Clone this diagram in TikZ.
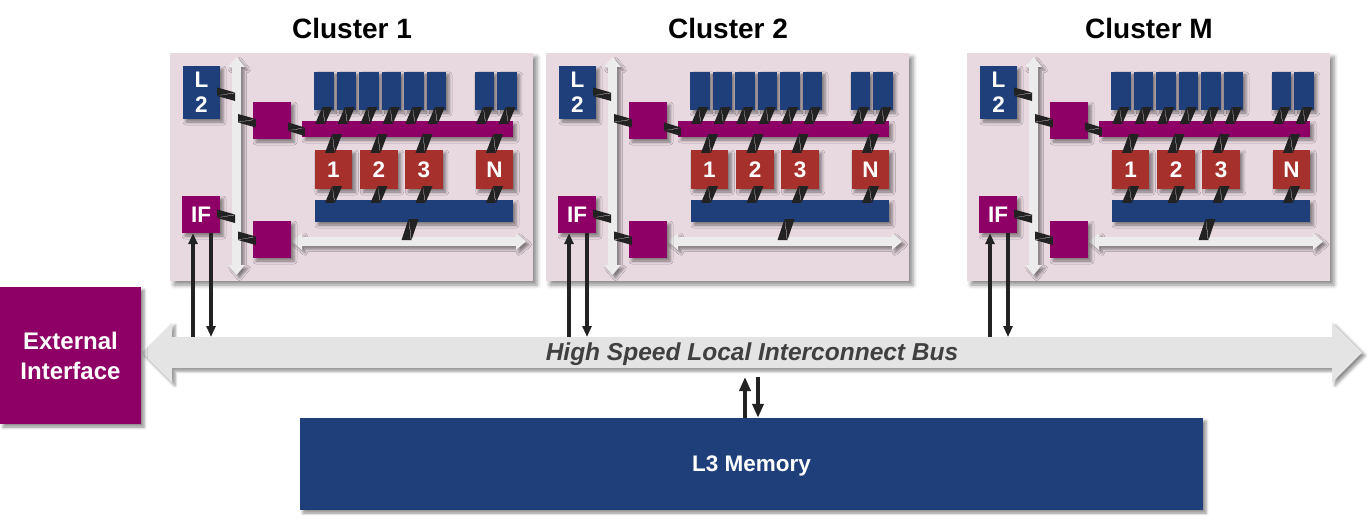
\documentclass[tikz,border=0pt]{standalone}
\usepackage{fontspec}
\setmainfont{Liberation Sans}
\usetikzlibrary{arrows.meta,calc,shadows.blur}

\definecolor{cblue}{HTML}{1F3F7A}
\definecolor{cpurple}{HTML}{8E0065}
\definecolor{cred}{HTML}{A6302C}
\definecolor{cbg}{HTML}{E8D9E0}
\definecolor{cgrey}{HTML}{E4E4E4}
\definecolor{clink}{HTML}{222222}
\definecolor{cbustext}{HTML}{404040}

\tikzset{
  shad/.style={blur shadow={shadow xshift=3pt, shadow yshift=-3pt, shadow blur radius=3pt, shadow opacity=45}},
  box/.style={rectangle, inner sep=0pt, text=white, align=center, shad, text depth=0pt,
    font=\fontsize{22.5}{25.5}\selectfont\bfseries},
  clbox/.style={rectangle, inner sep=0pt, fill=cbg, minimum width=363pt, minimum height=228pt,
    blur shadow={shadow xshift=4pt, shadow yshift=-4pt, shadow blur radius=4pt, shadow opacity=45}},
  sw/.style={box, fill=cpurple, minimum width=38pt, minimum height=37pt},
  bank/.style={box, fill=cblue, minimum width=19.5pt, minimum height=38pt},
  core/.style={box, fill=cred, minimum width=37.5pt, minimum height=39pt},
  ibus/.style={fill=cgrey!70!white, blur shadow={shadow xshift=3pt, shadow yshift=-3pt, shadow blur radius=2.5pt, shadow opacity=45}},
  link/.style={fill=clink, even odd rule},
  vlink/.style={to path={let \p1=(\tikztostart), \p2=(\tikztotarget) in
    (\x1-1.5pt,\y1+3pt) -- (\x1+8.5pt,\y1+3pt) -- (\x2+1.5pt,\y2-3pt) -- (\x2-8.5pt,\y2-3pt) -- cycle
    (\x1-1.5pt,\y1+3pt) -- (\x1-0.9pt,\y1+3pt) -- (\x2+1.5pt,\y2-3pt) -- (\x2+0.9pt,\y2-3pt) -- cycle}},
  hlink/.style={to path={let \p1=(\tikztostart), \p2=(\tikztotarget) in
    (\x1-3pt,\y1+6.5pt) -- (\x2+3pt,\y2+1.5pt) -- (\x2+3pt,\y2-7pt) -- (\x1-3pt,\y1-2pt) -- cycle
    (\x1-3pt,\y1-2pt) -- (\x1-3pt,\y1-1.4pt) -- (\x2+3pt,\y2+1.5pt) -- (\x2+3pt,\y2+0.9pt) -- cycle}},
  sig/.style={line width=3.3pt, draw=clink, >={Triangle[width=9pt,length=11pt]}},
  sigw/.style={line width=4.5pt, draw=clink, >={Triangle[width=11pt,length=14pt]}},
}

\begin{document}
\begin{tikzpicture}[x=1pt, y=-1pt]
  \useasboundingbox (0,0) rectangle (1369,524);

  % local interconnect bus
  \fill[cgrey, shad] (142,352.5) -- (172,322.5) -- (172,337) -- (1332,337) -- (1332,322.5)
    -- (1362,352.5) -- (1332,382.5) -- (1332,368) -- (172,368) -- (172,382.5) -- cycle;
  \node[font=\fontsize{24.5}{28}\selectfont\bfseries\itshape, text=cbustext] (bus) at (752,354)
    {High Speed Local Interconnect Bus};
  \coordinate (busN) at (0,337);
  \coordinate (busS) at (0,377);

  \node[box, fill=cpurple, minimum width=141pt, minimum height=137pt,
    font=\fontsize{24}{30}\selectfont\bfseries] (ext) at (70.5,355.5) {External\\Interface};
  \node[box, fill=cblue, minimum width=903pt, minimum height=92pt] (l3) at (751.5,464) {L3 Memory};

  \draw[sigw, ->] ([xshift=-6.5pt]l3.north) -- ([xshift=-6.5pt]l3.north |- busS);
  \draw[sigw, <-] ([xshift=6.5pt]l3.north) -- ([xshift=6.5pt]l3.north |- busS);

  % clusters
  \foreach \c/\ox/\ttl in {1/0/1, 2/376/2, m/797/M}{
  \begin{scope}[xshift=\ox]
    \node[font=\fontsize{28}{32}\selectfont\bfseries] (ttl-\c) at (352,28) {Cluster \ttl};
    \node[clbox] (cl-\c) at (351.5,167) {};

    \fill[ibus] (236.5,57) -- (245,67) -- (241,67) -- (241,265) -- (245,265) -- (236.5,275)
      -- (228,265) -- (232,265) -- (232,67) -- (228,67) -- cycle;
    \fill[ibus] (292,241.5) -- (302,233) -- (302,237) -- (516,237) -- (516,233) -- (526,241.5)
      -- (516,250) -- (516,246) -- (302,246) -- (302,250) -- cycle;
    \coordinate (vbl-\c) at (232,0);
    \coordinate (vbr-\c) at (241,0);
    \coordinate (hbt-\c) at (0,237);

    \node[box, fill=cblue, minimum width=37pt, minimum height=53pt] (l2-\c) at (201.5,92.5) {L\\2};
    \node[box, fill=cpurple, minimum width=38pt, minimum height=37pt] (if-\c) at (201,214.5) {IF};
    \node[sw] (sa-\c) at (272,120.5) {};
    \node[sw] (sb-\c) at (272,239.5) {};
    \node[box, fill=cpurple, minimum width=211pt, minimum height=16pt] (pb-\c) at (407.5,129) {};
    \node[box, fill=cblue, minimum width=198pt, minimum height=22pt] (bb-\c) at (414,211) {};
    \foreach \i/\x in {1/323.75,2/346.25,3/368.75,4/391.25,5/413.75,6/436.25,7/484.5,8/507}
      \node[bank] (bk\i-\c) at (\x,91) {};
    \foreach \i/\x/\t in {1/333.5/1,2/379/2,3/424/3,4/494.5/N}
      \node[core] (cr\i-\c) at (\x,169.5) {\t};

    % links
    \fill[link] ([yshift=-1.5pt]l2-\c.east) to[hlink] ([yshift=-1.5pt]l2-\c.east -| vbl-\c);
    \fill[link] (vbr-\c |- sa-\c.west) to[hlink] (sa-\c.west);
    \fill[link] (sa-\c.east |- pb-\c.west) to[hlink] (pb-\c.west);
    \fill[link] ([yshift=-1.5pt]if-\c.east) to[hlink] ([yshift=-1.5pt]if-\c.east -| vbl-\c);
    \fill[link] ([yshift=1.5pt]vbr-\c |- sb-\c.west) to[hlink] ([yshift=1.5pt]sb-\c.west);
    \foreach \i in {1,...,8}
      \fill[link] (bk\i-\c.south) to[vlink] (bk\i-\c.south |- pb-\c.north);
    \foreach \i in {1,...,4}{
      \fill[link] (cr\i-\c.north |- pb-\c.south) to[vlink] (cr\i-\c.north);
      \fill[link] (cr\i-\c.south) to[vlink] (cr\i-\c.south |- bb-\c.north);
    }
    \fill[link] ([xshift=-4pt]bb-\c.south) to[vlink] ([xshift=-4pt]bb-\c.south |- hbt-\c);

    \draw[sig, <-] ([xshift=-8pt]if-\c.south) -- ([xshift=-8pt]if-\c.south |- busN);
    \draw[sig, ->] ([xshift=10pt]if-\c.south) -- ([xshift=10pt]if-\c.south |- busN);
  \end{scope}
  }
\end{tikzpicture}
\end{document}
